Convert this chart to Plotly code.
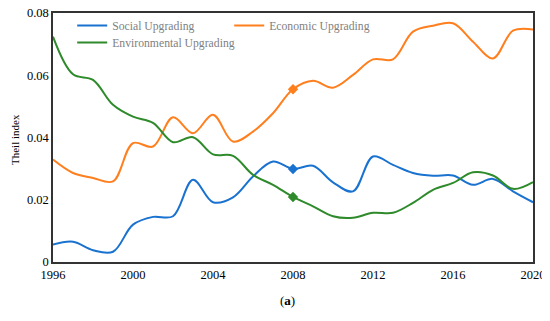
import plotly.graph_objects as go

years = list(range(1996, 2021))
social = [0.0056, 0.0065, 0.0038, 0.0033, 0.0120, 0.0145, 0.0147, 0.0264, 0.0192, 0.0208,
          0.0275, 0.0323, 0.0299, 0.0309, 0.0256, 0.0227, 0.0339, 0.0312, 0.0286, 0.0277,
          0.0278, 0.0248, 0.0267, 0.0227, 0.0192]
economic = [0.0329, 0.0286, 0.0270, 0.0259, 0.0382, 0.0371, 0.0465, 0.0414, 0.0473, 0.0387,
            0.0419, 0.0478, 0.0555, 0.0582, 0.0560, 0.0601, 0.0651, 0.0651, 0.0740, 0.0759,
            0.0767, 0.0708, 0.0654, 0.0743, 0.0747]
environmental = [0.0724, 0.0603, 0.0585, 0.0505, 0.0467, 0.0447, 0.0385, 0.0401, 0.0346, 0.0341,
                 0.0280, 0.0248, 0.0209, 0.0179, 0.0147, 0.0142, 0.0158, 0.0158, 0.0190, 0.0232,
                 0.0254, 0.0288, 0.0278, 0.0235, 0.0257]
marker_year = 2008
series_names = ["Social Upgrading", "Economic Upgrading", "Environmental Upgrading"]
colors = ["#1a72d0", "#ff7f1e", "#2e8a2a"]
legend_ids = ["legend", "legend", "legend2"]
x_ticks = [1996, 2000, 2004, 2008, 2012, 2016, 2020]
y_ticks = [0, 0.02, 0.04, 0.06, 0.08]
y_tick_text = ["0", "0.02", "0.04", "0.06", "0.08"]
y_title = "Theil index"

fig = go.Figure()
for name, vals, col, lg in zip(series_names, [social, economic, environmental], colors, legend_ids):
    fig.add_trace(go.Scatter(x=years, y=vals, name=name, mode="lines", legend=lg,
                             line=dict(color=col, width=2, shape="spline", smoothing=1.0)))
for name, vals, col in zip(series_names, [social, economic, environmental], colors):
    i = years.index(marker_year)
    fig.add_trace(go.Scatter(x=[years[i]], y=[vals[i]], mode="markers", showlegend=False,
                             marker=dict(symbol="diamond", size=8, color=col)))

font_family = "Liberation Serif"
plot_w = 480
plot_h = 249
legend_font = dict(family=font_family, size=11.7, color="#7f7f7f")
fig.update_layout(
    width=542, height=313,
    margin=dict(l=45, r=17, t=5, b=59, autoexpand=False),
    paper_bgcolor="white", plot_bgcolor="white",
    font=dict(family=font_family, size=12.5, color="black"),
    legend=dict(orientation="h", x=0.04, xanchor="left", y=1.0 + 2 / plot_h, yanchor="top",
                entrywidth=112, entrywidthmode="pixels", font=legend_font,
                bgcolor="rgba(0,0,0,0)", itemwidth=30, tracegroupgap=0),
    legend2=dict(orientation="h", x=0.04, xanchor="left", y=1.0 - 15 / plot_h, yanchor="top",
                 font=legend_font, bgcolor="rgba(0,0,0,0)", itemwidth=30, tracegroupgap=0),
    xaxis=dict(range=[1996, 2020], tickvals=x_ticks, showgrid=False, zeroline=False,
               showline=True, linecolor="#333333", linewidth=1.5, mirror=True,
               ticks="", tickfont=dict(size=12.5), automargin=False, ticklabeloverflow="allow"),
    yaxis=dict(range=[0, 0.08], tickvals=y_ticks, ticktext=y_tick_text, showgrid=False,
               zeroline=False, showline=True, linecolor="#333333", linewidth=1.5, mirror=True,
               ticks="", tickfont=dict(size=12.5), automargin=False, ticklabeloverflow="allow"),
    showlegend=True,
)
fig.add_annotation(text=y_title, xref="paper", yref="paper", x=-38 / plot_w, y=0.49,
                   textangle=-90, showarrow=False, xanchor="center", yanchor="middle",
                   font=dict(size=11, family=font_family, color="black"))
fig.add_annotation(text="(<b>a</b>)", xref="paper", yref="paper", x=0.488, y=-38 / plot_h,
                   showarrow=False, font=dict(size=13, family=font_family), yanchor="middle")
fig.write_html("out.html")
